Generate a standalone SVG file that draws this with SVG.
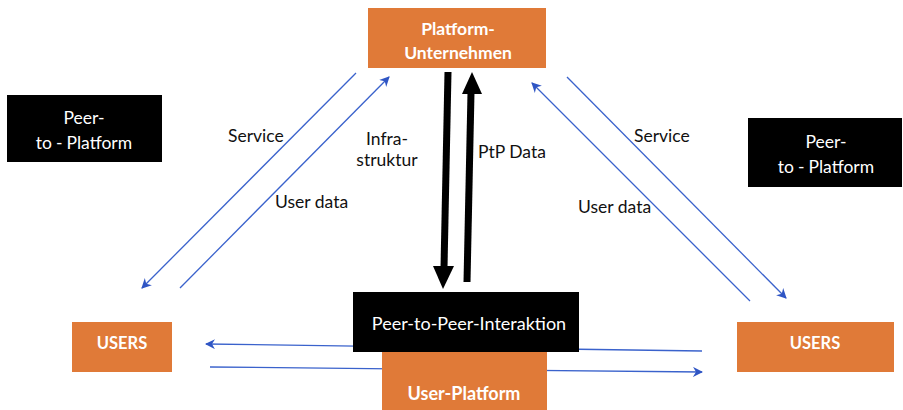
<svg xmlns="http://www.w3.org/2000/svg" width="903" height="410" viewBox="0 0 903 410">
  <style>
    .orange { fill: #E07A38; }
    .black { fill: #000; }
    .wt { fill: #fff; font-family: Lato, "Open Sans", sans-serif; text-anchor: middle; }
    .wb { fill: #fff; font-family: Lato, "Open Sans", sans-serif; font-weight: bold; text-anchor: middle; }
    .lbl { fill: #111; font-family: Lato, "Open Sans", sans-serif; font-size: 17.5px; }
    .blue { stroke: #3A62CC; stroke-width: 1.3; fill: none; }
    .thick { stroke: #000; stroke-width: 7; fill: none; }
  </style>
  <defs>
    <marker id="bluehead" viewBox="0 0 10 10" refX="9" refY="5" markerWidth="10" markerHeight="10" markerUnits="userSpaceOnUse" orient="auto">
      <path d="M0,0 L10,5 L0,10 L3,5 Z" fill="#2F55C4"/>
    </marker>
  </defs>

  <rect width="903" height="410" fill="#fff"/>

  <g id="connectors">
    <!-- left side: service down, user data up -->
    <line class="blue" x1="356" y1="73" x2="142" y2="288" marker-end="url(#bluehead)"/>
    <line class="blue" x1="180" y1="288" x2="389" y2="77" marker-end="url(#bluehead)"/>
    <!-- right side -->
    <line class="blue" x1="750" y1="301" x2="532" y2="83" marker-end="url(#bluehead)"/>
    <line class="blue" x1="567" y1="77" x2="786" y2="298" marker-end="url(#bluehead)"/>
    <!-- user to user -->
    <line class="blue" x1="702" y1="351" x2="206" y2="344" marker-end="url(#bluehead)"/>
    <line class="blue" x1="210" y1="367" x2="702" y2="372" marker-end="url(#bluehead)"/>
    <!-- infrastructure down / PtP data up -->
    <line class="thick" x1="448" y1="72" x2="444" y2="268"/>
    <polygon points="433,266 454,266 443,289" fill="#000"/>
    <line class="thick" x1="467" y1="282" x2="471" y2="92"/>
    <polygon points="462,94 482,94 472,72" fill="#000"/>
  </g>

  <g id="labels">
    <text class="lbl" x="228" y="142">Service</text>
    <text class="lbl" x="275" y="208">User data</text>
    <text class="lbl" x="387" y="145" text-anchor="middle">Infra-</text>
    <text class="lbl" x="387" y="166" text-anchor="middle">struktur</text>
    <text class="lbl" x="478" y="158">PtP Data</text>
    <text class="lbl" x="634" y="142">Service</text>
    <text class="lbl" x="578" y="213">User data</text>
  </g>

  <g id="platform-unternehmen">
    <rect class="orange" x="368" y="8" width="178" height="60"/>
    <text class="wb" x="458" y="35" font-size="17.5">Platform-</text>
    <text class="wb" x="458" y="59" font-size="17.5">Unternehmen</text>
  </g>

  <g id="peer-to-platform-left">
    <rect class="black" x="7" y="95" width="155" height="67"/>
    <text class="wt" x="84" y="124" font-size="17.5">Peer-</text>
    <text class="wt" x="84" y="149" font-size="17.5">to<tspan dx="4">-</tspan><tspan dx="4">Platform</tspan></text>
  </g>

  <g id="peer-to-platform-right">
    <rect class="black" x="748" y="118" width="154" height="69"/>
    <text class="wt" x="826" y="148" font-size="17.5">Peer-</text>
    <text class="wt" x="826" y="173" font-size="17.5">to<tspan dx="4">-</tspan><tspan dx="4">Platform</tspan></text>
  </g>

  <g id="users-left">
    <rect class="orange" x="72" y="322" width="100" height="50"/>
    <text class="wb" x="122" y="349" font-size="16.5">USERS</text>
  </g>

  <g id="users-right">
    <rect class="orange" x="737" y="322" width="157" height="50"/>
    <text class="wb" x="815" y="349" font-size="16.5">USERS</text>
  </g>

  <g id="user-platform">
    <rect class="orange" x="382" y="352" width="165" height="58"/>
    <text class="wb" x="464" y="400" font-size="18">User-Platform</text>
  </g>

  <g id="peer-to-peer">
    <rect class="black" x="353" y="292" width="226" height="60"/>
    <text class="wt" x="469" y="330" font-size="18">Peer-to-Peer-Interaktion</text>
  </g>
</svg>
